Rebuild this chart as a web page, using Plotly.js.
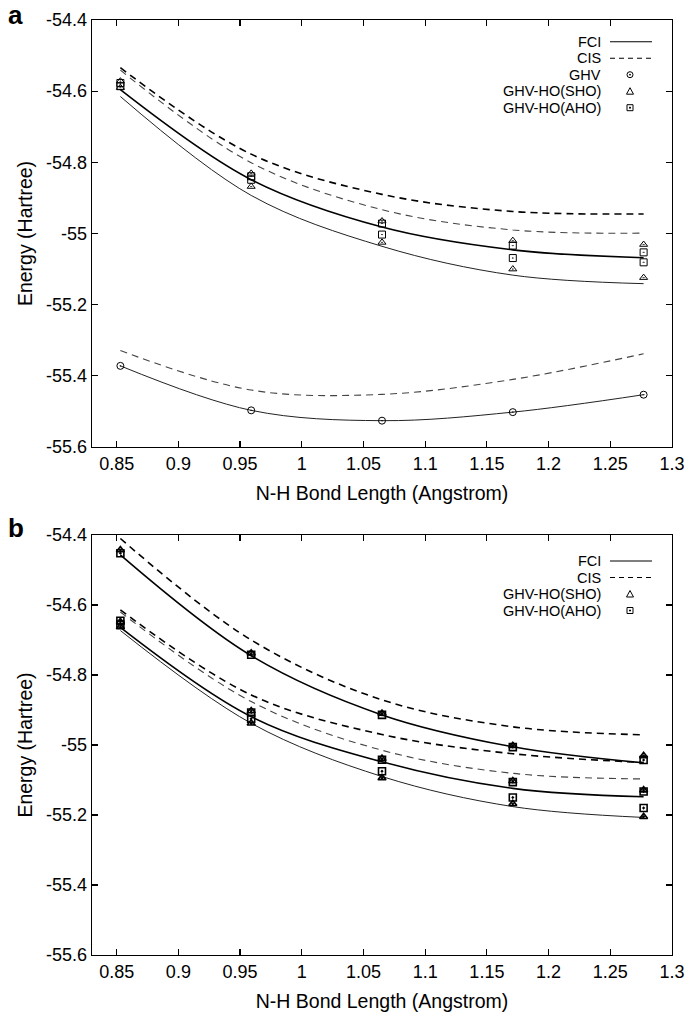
<!DOCTYPE html>
<html><head><meta charset="utf-8">
<script src="https://cdn.plot.ly/plotly-3.0.1.min.js"></script>
<style>html,body{margin:0;padding:0;background:#fff}#chart{width:688px;height:1014px}</style>
</head><body><div id="chart"></div>
<script>
// ---------- data ----------
const bondLength = [0.853, 0.959, 1.065, 1.171, 1.277];

// panel a
const aCisUpper   = [-54.534, -54.777, -54.890, -54.938, -54.945];
const aCisLower   = [-54.541, -54.801, -54.933, -54.990, -54.999];
const aFciUpper   = [-54.596, -54.849, -54.982, -55.046, -55.068];
const aFciLower   = [-54.615, -54.893, -55.036, -55.117, -55.141];
const aCisGround  = [-55.329, -55.440, -55.452, -55.410, -55.338];
const aFciGround  = [-55.372, -55.497, -55.526, -55.502, -55.453];
const aGhv        = [-55.372, -55.497, -55.526, -55.502, -55.453];
const aShoUpper   = [-54.572, -54.831, -54.965, -55.020, -55.031];
const aShoLower   = [-54.590, -54.868, -55.025, -55.100, -55.124];
const aAhoUpper   = [-54.577, -54.839, -54.972, -55.034, -55.053];
const aAhoLower   = [-54.586, -54.849, -55.003, -55.069, -55.081];

// panel b
const bCisTop     = [-54.410, -54.700, -54.871, -54.948, -54.971];
const bFciTop     = [-54.457, -54.745, -54.914, -55.005, -55.051];
const bCisMid     = [-54.614, -54.857, -54.970, -55.025, -55.050];
const bFciMid     = [-54.664, -54.919, -55.048, -55.124, -55.148];
const bCisLow     = [-54.620, -54.876, -55.015, -55.081, -55.097];
const bFciLow     = [-54.673, -54.938, -55.090, -55.176, -55.207];
const bShoTop     = [-54.443, -54.738, -54.910, -55.002, -55.031];
const bAhoTop     = [-54.452, -54.742, -54.914, -55.006, -55.043];
const bShoMid     = [-54.648, -54.903, -55.039, -55.103, -55.129];
const bAhoMid     = [-54.645, -54.907, -55.042, -55.106, -55.133];
const bShoLow     = [-54.663, -54.938, -55.094, -55.168, -55.205];
const bAhoLow     = [-54.656, -54.925, -55.075, -55.150, -55.180];

// ticks & labels
const xTickVals = [0.85, 0.9, 0.95, 1, 1.05, 1.1, 1.15, 1.2, 1.25, 1.3];
const xTickText = ['0.85', '0.9', '0.95', '1', '1.05', '1.1', '1.15', '1.2', '1.25', '1.3'];
const yTickVals = [-54.4, -54.6, -54.8, -55, -55.2, -55.4, -55.6];
const yTickText = ['-54.4', '-54.6', '-54.8', '-55', '-55.2', '-55.4', '-55.6'];
const legendA = ['FCI', 'CIS', 'GHV', 'GHV-HO(SHO)', 'GHV-HO(AHO)'];
const legendB = ['FCI', 'CIS', 'GHV-HO(SHO)', 'GHV-HO(AHO)'];
const panelLabels = ['a', 'b'];
const xTitle = 'N-H Bond Length (Angstrom)';
const yTitle = 'Energy (Hartree)';

// ---------- styles ----------
const FONT = 'Liberation Sans, Arial, Helvetica, sans-serif';
const heavySolid = {color: '#000', width: 1.6, shape: 'spline'};
const thinSolid  = {color: '#222', width: 1.0, shape: 'spline'};
const heavyDash  = {color: '#000', width: 1.6, dash: '7px,5px', shape: 'spline'};
const thinDash   = {color: '#444', width: 1.1, dash: '7px,5px', shape: 'spline'};

function line(y, style, xa, ya) {
  return {x: bondLength, y: y, mode: 'lines', line: style, xaxis: xa, yaxis: ya,
          showlegend: false, hoverinfo: 'skip'};
}
function marks(y, symbol, xa, ya, lw) {
  return {x: bondLength, y: y, mode: 'markers', xaxis: xa, yaxis: ya, showlegend: false,
          marker: {symbol: symbol, size: 7, color: '#000', line: {color: '#000', width: lw || 1}}};
}

const traces = [
  line(aCisUpper, heavyDash, 'x', 'y'),
  line(aCisLower, thinDash, 'x', 'y'),
  line(aFciUpper, heavySolid, 'x', 'y'),
  line(aFciLower, thinSolid, 'x', 'y'),
  line(aCisGround, thinDash, 'x', 'y'),
  line(aFciGround, thinSolid, 'x', 'y'),
  marks(aGhv, 'circle-open-dot', 'x', 'y'),
  marks(aShoUpper, 'triangle-up-open-dot', 'x', 'y'),
  marks(aShoLower, 'triangle-up-open-dot', 'x', 'y'),
  marks(aAhoUpper, 'square-open-dot', 'x', 'y'),
  marks(aAhoLower, 'square-open-dot', 'x', 'y'),
  line(bCisTop, heavyDash, 'x2', 'y2'),
  line(bFciTop, heavySolid, 'x2', 'y2'),
  line(bCisMid, heavyDash, 'x2', 'y2'),
  line(bFciMid, heavySolid, 'x2', 'y2'),
  line(bCisLow, thinDash, 'x2', 'y2'),
  line(bFciLow, thinSolid, 'x2', 'y2'),
  marks(bShoTop, 'triangle-up-open-dot', 'x2', 'y2', 1.6),
  marks(bAhoTop, 'square-open-dot', 'x2', 'y2', 1.6),
  marks(bShoMid, 'triangle-up-open-dot', 'x2', 'y2', 1.6),
  marks(bAhoMid, 'square-open-dot', 'x2', 'y2', 1.6),
  marks(bShoLow, 'triangle-up-open-dot', 'x2', 'y2', 1.6),
  marks(bAhoLow, 'square-open-dot', 'x2', 'y2', 1.6)
];

// ---------- layout ----------
const W = 688, H = 1014;
const M = {l: 92, r: 16, t: 20, b: 59};
const PH = H - M.t - M.b;
const dom = (topPx, botPx) => [(H - M.b - botPx) / PH, (H - M.b - topPx) / PH];

function xAxis(anchor) {
  return {
    range: [0.83, 1.3], tickvals: xTickVals, ticktext: xTickText,
    ticks: 'inside', ticklen: 6, tickwidth: 1.2, tickcolor: '#000',
    showline: true, linecolor: '#000', linewidth: 1.4, mirror: 'ticks',
    showgrid: false, zeroline: false, anchor: anchor,
    tickfont: {family: FONT, size: 18, color: '#000'},
    title: {text: xTitle, font: {family: FONT, size: 19.5, color: '#000'}, standoff: 13}
  };
}
function yAxis(anchor, domain) {
  return {
    range: [-55.6, -54.4], tickvals: yTickVals, ticktext: yTickText, domain: domain,
    ticks: 'inside', ticklen: 6, tickwidth: 1.2, tickcolor: '#000',
    showline: true, linecolor: '#000', linewidth: 1.4, mirror: 'ticks',
    showgrid: false, zeroline: false, anchor: anchor,
    tickfont: {family: FONT, size: 18, color: '#000'},
    title: {text: yTitle, font: {family: FONT, size: 19.5, color: '#000'}, standoff: 8}
  };
}

const px = v => (v - M.l) / (W - M.l - M.r);
const py = v => (H - M.b - v) / PH;

const annotations = [];
const shapes = [];
function buildLegend(labels, rowTop, kinds) {
  labels.forEach((lab, i) => {
    const yPix = rowTop + i * 16.5;
    annotations.push({xref: 'paper', yref: 'paper', x: px(603), y: py(yPix), xanchor: 'right', yanchor: 'middle',
      text: lab, showarrow: false, font: {family: FONT, size: 14.5, color: '#000'}});
    const k = kinds[i];
    if (k === 'solid' || k === 'dash') {
      shapes.push({type: 'line', xref: 'paper', yref: 'paper', x0: px(610), x1: px(652), y0: py(yPix), y1: py(yPix),
        line: {color: '#000', width: 1.1, dash: k === 'dash' ? '5px,4px' : 'solid'}});
    } else if (k === 'circle') {
      shapes.push({type: 'circle', xref: 'paper', yref: 'paper', x0: px(627), x1: px(633), y0: py(yPix + 3), y1: py(yPix - 3),
        line: {color: '#000', width: 1}});
      shapes.push({type: 'circle', xref: 'paper', yref: 'paper', x0: px(629.5), x1: px(630.5), y0: py(yPix + 0.5), y1: py(yPix - 0.5),
        line: {color: '#000', width: 1}, fillcolor: '#000'});
    } else if (k === 'tri') {
      shapes.push({type: 'path', xref: 'paper', yref: 'paper',
        path: `M ${px(626.5)} ${py(yPix + 3)} L ${px(633.5)} ${py(yPix + 3)} L ${px(630)} ${py(yPix - 3.5)} Z`,
        line: {color: '#000', width: 1}});
    } else if (k === 'sq') {
      shapes.push({type: 'rect', xref: 'paper', yref: 'paper', x0: px(627), x1: px(633), y0: py(yPix + 3), y1: py(yPix - 3),
        line: {color: '#000', width: 1}});
      shapes.push({type: 'rect', xref: 'paper', yref: 'paper', x0: px(629.5), x1: px(630.5), y0: py(yPix + 0.5), y1: py(yPix - 0.5),
        line: {color: '#000', width: 1}, fillcolor: '#000'});
    }
  });
}
buildLegend(legendA, 41.7, ['solid', 'dash', 'circle', 'tri', 'sq']);
buildLegend(legendB, 561, ['solid', 'dash', 'tri', 'sq']);

annotations.push({xref: 'paper', yref: 'paper', x: px(6), y: py(15), xanchor: 'left', yanchor: 'middle',
  text: '<b>' + panelLabels[0] + '</b>', showarrow: false, font: {family: FONT, size: 26, color: '#000'}});
annotations.push({xref: 'paper', yref: 'paper', x: px(6), y: py(528), xanchor: 'left', yanchor: 'middle',
  text: '<b>' + panelLabels[1] + '</b>', showarrow: false, font: {family: FONT, size: 26, color: '#000'}});

const layout = {
  width: W, height: H, margin: M,
  paper_bgcolor: '#fff', plot_bgcolor: '#fff',
  font: {family: FONT, color: '#000'},
  showlegend: false,
  xaxis: xAxis('y'),
  yaxis: yAxis('x', dom(20, 447)),
  xaxis2: xAxis('y2'),
  yaxis2: yAxis('x2', dom(535, 955)),
  annotations: annotations,
  shapes: shapes
};

Plotly.newPlot('chart', traces, layout, {staticPlot: true, displayModeBar: false});
</script>
</body></html>
